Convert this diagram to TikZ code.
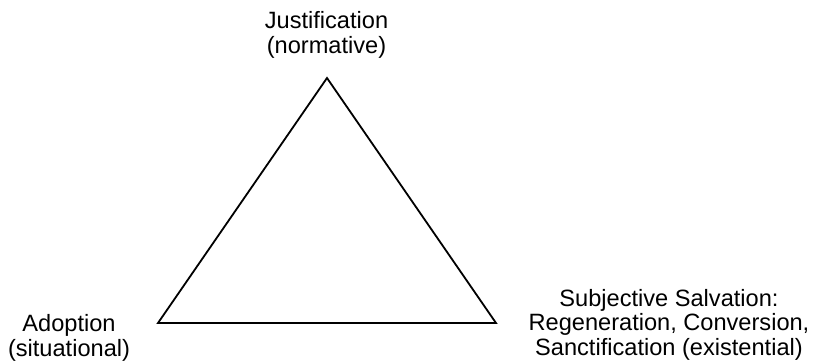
\documentclass[tikz,border=0pt]{standalone}
\usepackage{fontspec}
\setmainfont{Liberation Sans}
\begin{document}
\begin{tikzpicture}[x=1pt,y=-1pt,
  lbl/.style={align=center,inner sep=0pt,anchor=base,font=\fontsize{23.6}{24.5}\selectfont}]
\useasboundingbox (0,0) rectangle (817,362);
\coordinate (top) at (327,78);
\coordinate (bl) at (158,323);
\coordinate (br) at (496,323);
\draw[line width=1.8pt,line join=miter] (top) -- (bl) -- (br) -- cycle;
\node[lbl] (just) at (326.5,53) {Justification\\(normative)};
\node[lbl] (adop) at (69,356) {Adoption\\(situational)};
\node[lbl] (subj) at (669,355) {Subjective Salvation:\\Regeneration, Conversion,\\Sanctification (existential)};
\end{tikzpicture}
\end{document}
